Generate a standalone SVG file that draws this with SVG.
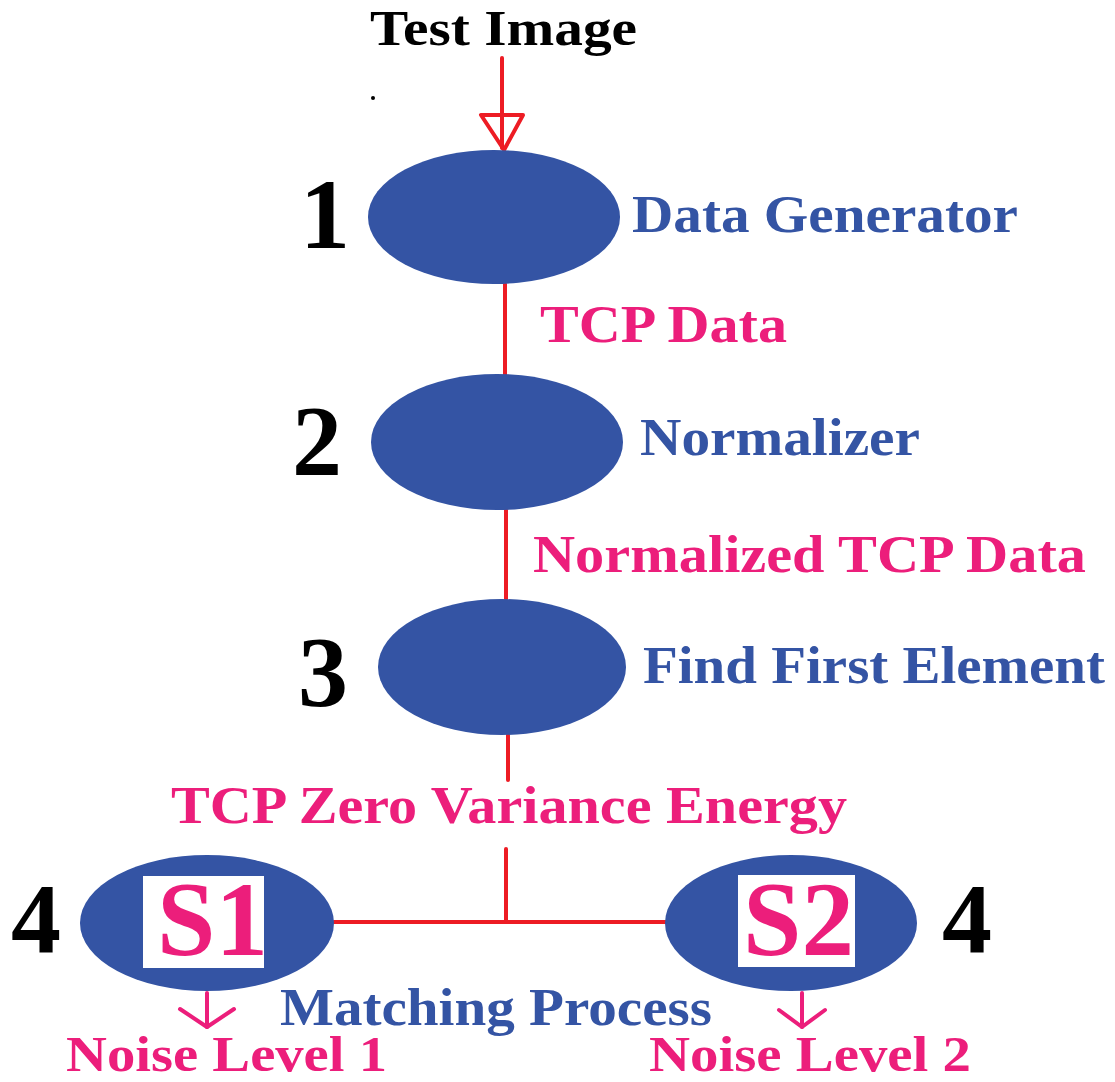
<svg xmlns="http://www.w3.org/2000/svg" width="1115" height="1082" viewBox="0 0 1115 1082">
  <style>
    .node { fill: #3454a4; }
    .wire { stroke: #ed1c24; stroke-width: 4; fill: none; stroke-linecap: round; }
    .out { stroke: #ec1e7b; stroke-width: 4; fill: none; stroke-linecap: round; stroke-linejoin: round; }
    .t { font-family: "Liberation Serif", "Times New Roman", serif; font-weight: bold; }
    .lbl { font-size: 53px; }
    .blue { fill: #3454a4; }
    .pink { fill: #ec1e7b; }
    .num { font-size: 100px; fill: #000; }
    .tag { font-size: 105px; fill: #ec1e7b; }
  </style>
  <defs>
    <clipPath id="clipS1"><rect x="143" y="876" width="121" height="92"/></clipPath>
    <clipPath id="clipS2"><rect x="738" y="875" width="117" height="92"/></clipPath>
  </defs>

  <rect width="1115" height="1082" fill="#fff"/>

  <!-- input -->
  <g id="input">
    <text class="t" x="370" y="45" font-size="50" fill="#000" textLength="267" lengthAdjust="spacingAndGlyphs">Test Image</text>
    <circle cx="373" cy="98" r="2" fill="#000"/>
  </g>

  <!-- connectors -->
  <g id="connectors">
    <line class="wire" x1="502" y1="58" x2="502" y2="148"/>
    <polygon class="wire" points="481,115 523,115 504,150" stroke-linejoin="round"/>
    <line class="wire" x1="505" y1="284" x2="505" y2="376"/>
    <line class="wire" x1="506" y1="510" x2="506" y2="599"/>
    <line class="wire" x1="508" y1="735" x2="508" y2="780"/>
    <line class="wire" x1="506" y1="849" x2="506" y2="922"/>
    <line class="wire" x1="334" y1="922" x2="666" y2="922"/>
    <polyline class="out" points="207,993 207,1027"/>
    <polyline class="out" points="180,1009 207,1027 234,1009"/>
    <polyline class="out" points="802,993 802,1027"/>
    <polyline class="out" points="779,1010 802,1027 825,1010"/>
  </g>

  <!-- stage 1 -->
  <g id="node1">
    <ellipse class="node" cx="494" cy="217" rx="126" ry="67"/>
    <text class="t num" x="300" y="248">1</text>
    <text class="t lbl blue" x="632" y="232" textLength="386" lengthAdjust="spacingAndGlyphs">Data Generator</text>
  </g>
  <text id="edge1" class="t lbl pink" x="540" y="342" textLength="247" lengthAdjust="spacingAndGlyphs">TCP Data</text>

  <!-- stage 2 -->
  <g id="node2">
    <ellipse class="node" cx="497" cy="442" rx="126" ry="68"/>
    <text class="t num" x="292" y="474">2</text>
    <text class="t lbl blue" x="640" y="455" textLength="280" lengthAdjust="spacingAndGlyphs">Normalizer</text>
  </g>
  <text id="edge2" class="t lbl pink" x="533" y="572" textLength="553" lengthAdjust="spacingAndGlyphs">Normalized TCP Data</text>

  <!-- stage 3 -->
  <g id="node3">
    <ellipse class="node" cx="502" cy="667" rx="124" ry="68"/>
    <text class="t num" x="298" y="705">3</text>
    <text class="t lbl blue" x="643" y="683" textLength="462" lengthAdjust="spacingAndGlyphs">Find First Element</text>
  </g>
  <text id="edge3" class="t lbl pink" x="171" y="823" textLength="676" lengthAdjust="spacingAndGlyphs">TCP Zero Variance Energy</text>

  <!-- stage 4: two matchers -->
  <g id="nodeS1">
    <ellipse class="node" cx="207" cy="923" rx="127" ry="68"/>
    <rect x="143" y="876" width="121" height="92" fill="#fff"/>
    <text class="t tag" x="157" y="955" clip-path="url(#clipS1)">S1</text>
    <text class="t num" x="11" y="952">4</text>
    <text class="t pink" x="66" y="1071" font-size="50" textLength="321" lengthAdjust="spacingAndGlyphs">Noise Level 1</text>
  </g>
  <g id="nodeS2">
    <ellipse class="node" cx="791" cy="923" rx="126" ry="68"/>
    <rect x="738" y="875" width="117" height="92" fill="#fff"/>
    <text class="t tag" x="743" y="955" clip-path="url(#clipS2)">S2</text>
    <text class="t num" x="942" y="952">4</text>
    <text class="t pink" x="649" y="1071" font-size="50" textLength="322" lengthAdjust="spacingAndGlyphs">Noise Level 2</text>
  </g>
  <text id="matching" class="t lbl blue" x="280" y="1025" textLength="432" lengthAdjust="spacingAndGlyphs">Matching Process</text>
</svg>
